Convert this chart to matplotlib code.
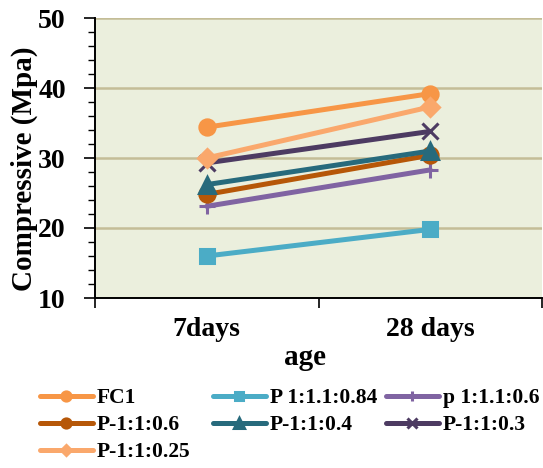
import matplotlib
matplotlib.use("Agg")
import matplotlib.pyplot as plt
from matplotlib.ticker import MultipleLocator, FixedLocator, NullFormatter

# Compressive strength by curing age
ages = ["7days", "28 days"]
series_names = ["FC1", "P 1:1.1:0.84", "p 1:1.1:0.6", "P-1:1:0.6",
                "P-1:1:0.4", "P-1:1:0.3", "P-1:1:0.25"]
fc1 = [34.4, 39.2]
p_1_1_1_084 = [16.0, 19.8]
p_1_1_1_06 = [23.1, 28.3]
p_1_1_06 = [24.8, 30.4]
p_1_1_04 = [26.2, 31.0]
p_1_1_03 = [29.3, 33.8]
p_1_1_025 = [30.0, 37.3]
y_ticks = [10, 20, 30, 40, 50]

values = [fc1, p_1_1_1_084, p_1_1_1_06, p_1_1_06, p_1_1_04, p_1_1_03, p_1_1_025]
colors = ["#F79646", "#4BACC6", "#8064A2", "#B65708", "#276A7C", "#4D3B62", "#FAA86C"]
markers = ["o", "s", "+", "o", "^", "x", "D"]
msizes = [11, 10.5, 11, 11, 11, 11, 9]

plt.rcParams["font.family"] = ["Liberation Serif", "DejaVu Serif"]
plt.rcParams["font.weight"] = "bold"

fig = plt.figure(figsize=(5.43, 4.68), dpi=100)
ax = fig.add_axes([95 / 543, 1 - 298 / 468, 447 / 543, 280 / 468])
ax.set_facecolor("#EBEFDD")

x = [0.5, 1.5]
handles = []
for name, vals, c, m, ms in zip(series_names, values, colors, markers, msizes):
    h, = ax.plot(x, vals, color=c, lw=3.6, marker=m, ms=ms, mew=2.2,
                 mec=c, mfc=c, label=name, solid_capstyle="round", zorder=3)
    handles.append(h)

ax.set_xlim(0, 2)
ax.set_ylim(10, 50)
ax.yaxis.set_major_locator(FixedLocator(y_ticks))
ax.yaxis.set_minor_locator(MultipleLocator(2))
ax.xaxis.set_major_locator(FixedLocator([0, 1, 2]))
ax.xaxis.set_major_formatter(NullFormatter())
ax.xaxis.set_minor_locator(FixedLocator(x))
ax.set_xticklabels(ages, minor=True)
ax.tick_params(axis="x", which="minor", length=0, pad=14, labelsize=20)
ax.tick_params(axis="x", which="major", length=7, width=1.2, direction="out")
ax.tick_params(axis="y", which="major", length=8, width=1.2, labelsize=20, pad=13)
ax.tick_params(axis="y", which="minor", length=5, width=1.0)

ax.grid(axis="y", which="major", color="#C4BD97", lw=1.8, zorder=1)
for s in ["top", "right"]:
    ax.spines[s].set_visible(False)
for s in ["left", "bottom"]:
    ax.spines[s].set_linewidth(1.4)
    ax.spines[s].set_zorder(4)

ax.set_ylabel("Compressive (Mpa)", fontsize=21, fontweight="bold")
ax.yaxis.set_label_coords(-0.128, 0.46)
ax.set_xlabel("age", fontsize=21, fontweight="bold")
ax.xaxis.set_label_coords(0.47, -0.165)

# Legend laid out row by row in three fixed columns
col_x = [40, 213, 386]
rows = [[0, 3, 6], [1, 4], [2, 5]]
for cx, idx in zip(col_x, rows):
    fig.legend([handles[i] for i in idx], [series_names[i] for i in idx],
               loc="upper left", bbox_to_anchor=(cx / 543, 1 - 388 / 468),
               ncol=1, frameon=False, handlelength=2.45, markerscale=0.6,
               handletextpad=0.2, labelspacing=0.33,
               borderaxespad=0, borderpad=0,
               prop={"weight": "bold", "size": 15.5})

fig.savefig("out.png", dpi=100)
